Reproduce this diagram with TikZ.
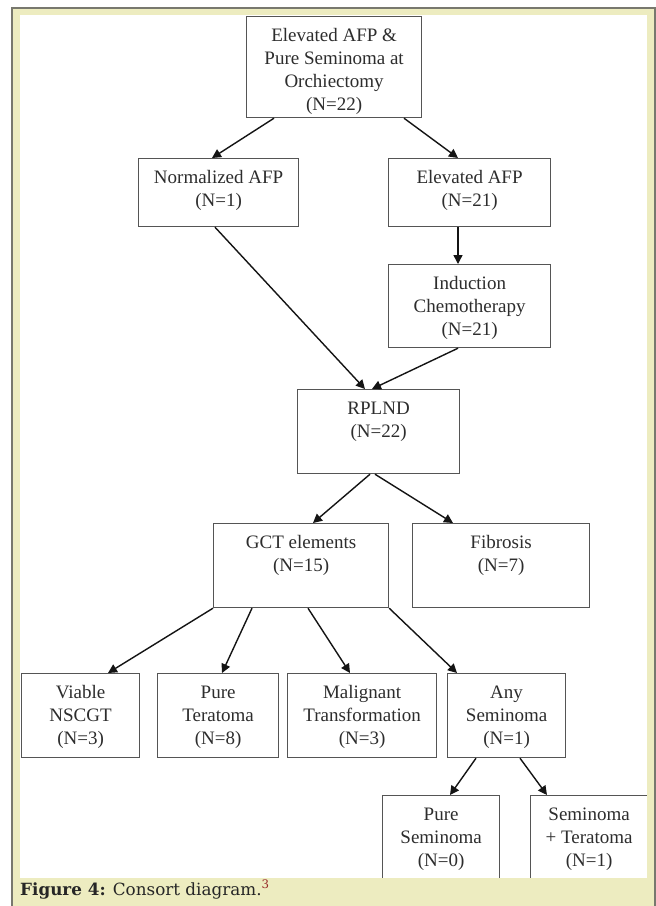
\documentclass[tikz,border=0pt]{standalone}
\usepackage{fontspec}
\setmainfont{Liberation Serif}
\newfontfamily\capfont{DejaVu Serif}
\usetikzlibrary{arrows.meta,calc}
\definecolor{beige}{RGB}{237,236,192}
\definecolor{panelline}{RGB}{120,120,110}
\definecolor{boxline}{RGB}{85,85,85}
\definecolor{boxtext}{RGB}{45,45,45}
\definecolor{arrowcol}{RGB}{20,20,20}
\definecolor{supred}{RGB}{150,40,40}
\newcommand{\bt}[3]{\begin{minipage}[t][#2pt][t]{#1pt}\centering\vspace*{8.9pt}\strut #3\end{minipage}}
\tikzset{
  box/.style={draw=boxline, line width=1.2pt, inner sep=0pt, anchor=north west, fill=white,
    text=boxtext, font=\fontsize{19}{23}\selectfont},
  arr/.style={draw=arrowcol, line width=1.4pt, -{Triangle[length=9pt,width=9pt]}},
}
\begin{document}
\begin{tikzpicture}[x=1pt,y=-1pt]
\useasboundingbox (0,0) rectangle (656,906);
\fill[white] (0,0) rectangle (656,906);
% panel
\fill[beige] (12,8) rectangle (656,906);
\fill[white] (20,15) rectangle (647,878);
% boxes
\node[box] (top) at (246,16) {\bt{175}{101}{Elevated AFP \&\\Pure Seminoma at\\Orchiectomy\\(N=22)}};
\node[box] (norm) at (138,158) {\bt{160}{68}{Normalized AFP\\(N=1)}};
\node[box] (elev) at (388,158) {\bt{162}{68}{Elevated AFP\\(N=21)}};
\node[box] (ind) at (388,264) {\bt{162}{83}{Induction\\Chemotherapy\\(N=21)}};
\node[box] (rplnd) at (297,389) {\bt{162}{84}{RPLND\\(N=22)}};
\node[box] (gct) at (213,523) {\bt{175}{84}{GCT elements\\(N=15)}};
\node[box] (fib) at (412,523) {\bt{177}{84}{Fibrosis\\(N=7)}};
\node[box] (viable) at (21,673) {\bt{118}{84}{Viable\\NSCGT\\(N=3)}};
\node[box] (pter) at (157,673) {\bt{121}{84}{Pure\\Teratoma\\(N=8)}};
\node[box] (malig) at (287,673) {\bt{149}{84}{Malignant\\Transformation\\(N=3)}};
\node[box] (anysem) at (447,673) {\bt{118}{84}{Any\\Seminoma\\(N=1)}};
\node[box] (psem) at (382,795) {\bt{117}{95}{Pure\\Seminoma\\(N=0)}};
\node[box] (semter) at (530,795) {\bt{117}{95}{Seminoma\\+ Teratoma\\(N=1)}};
% connectors
\draw[arr] ($(top.south west)+(28,0)$) -- ($(norm.north west)+(74,0)$);
\draw[arr] ($(top.south west)+(158,0)$) -- ($(elev.north west)+(70,0)$);
\draw[arr] ($(elev.south west)+(70,0)$) -- ($(ind.north west)+(70,0)$);
\draw[arr] ($(norm.south west)+(77,0)$) -- ($(rplnd.north west)+(68,0)$);
\draw[arr] ($(ind.south west)+(70,0)$) -- ($(rplnd.north west)+(75,0)$);
\draw[arr] ($(rplnd.south west)+(73,0)$) -- ($(gct.north west)+(100,0)$);
\draw[arr] ($(rplnd.south west)+(78,0)$) -- ($(fib.north west)+(41,0)$);
\draw[arr] (gct.south west) -- ($(viable.north west)+(87,0)$);
\draw[arr] ($(gct.south west)+(39,0)$) -- ($(pter.north west)+(65,0)$);
\draw[arr] ($(gct.south west)+(95,0)$) -- ($(malig.north west)+(63,0)$);
\draw[arr] (gct.south east) -- ($(anysem.north west)+(10,0)$);
\draw[arr] ($(anysem.south west)+(29,0)$) -- ($(psem.north west)+(68,0)$);
\draw[arr] ($(anysem.south west)+(73,0)$) -- ($(semter.north west)+(17,0)$);
% panel strips drawn over clipped boxes
\fill[beige] (647,15) rectangle (656,906);
\fill[beige] (12,878) rectangle (656,906);
\draw[panelline, line width=1.5pt] (12,910) -- (12,8) -- (655,8) -- (655,910);
% caption
\node[anchor=base west, inner sep=0pt, text=black!85] (cap) at (20,895)
  {\capfont\fontsize{16.8}{19}\selectfont\textbf{Figure 4:} Consort diagram.\textsuperscript{\color{supred}3}};
\end{tikzpicture}
\end{document}
